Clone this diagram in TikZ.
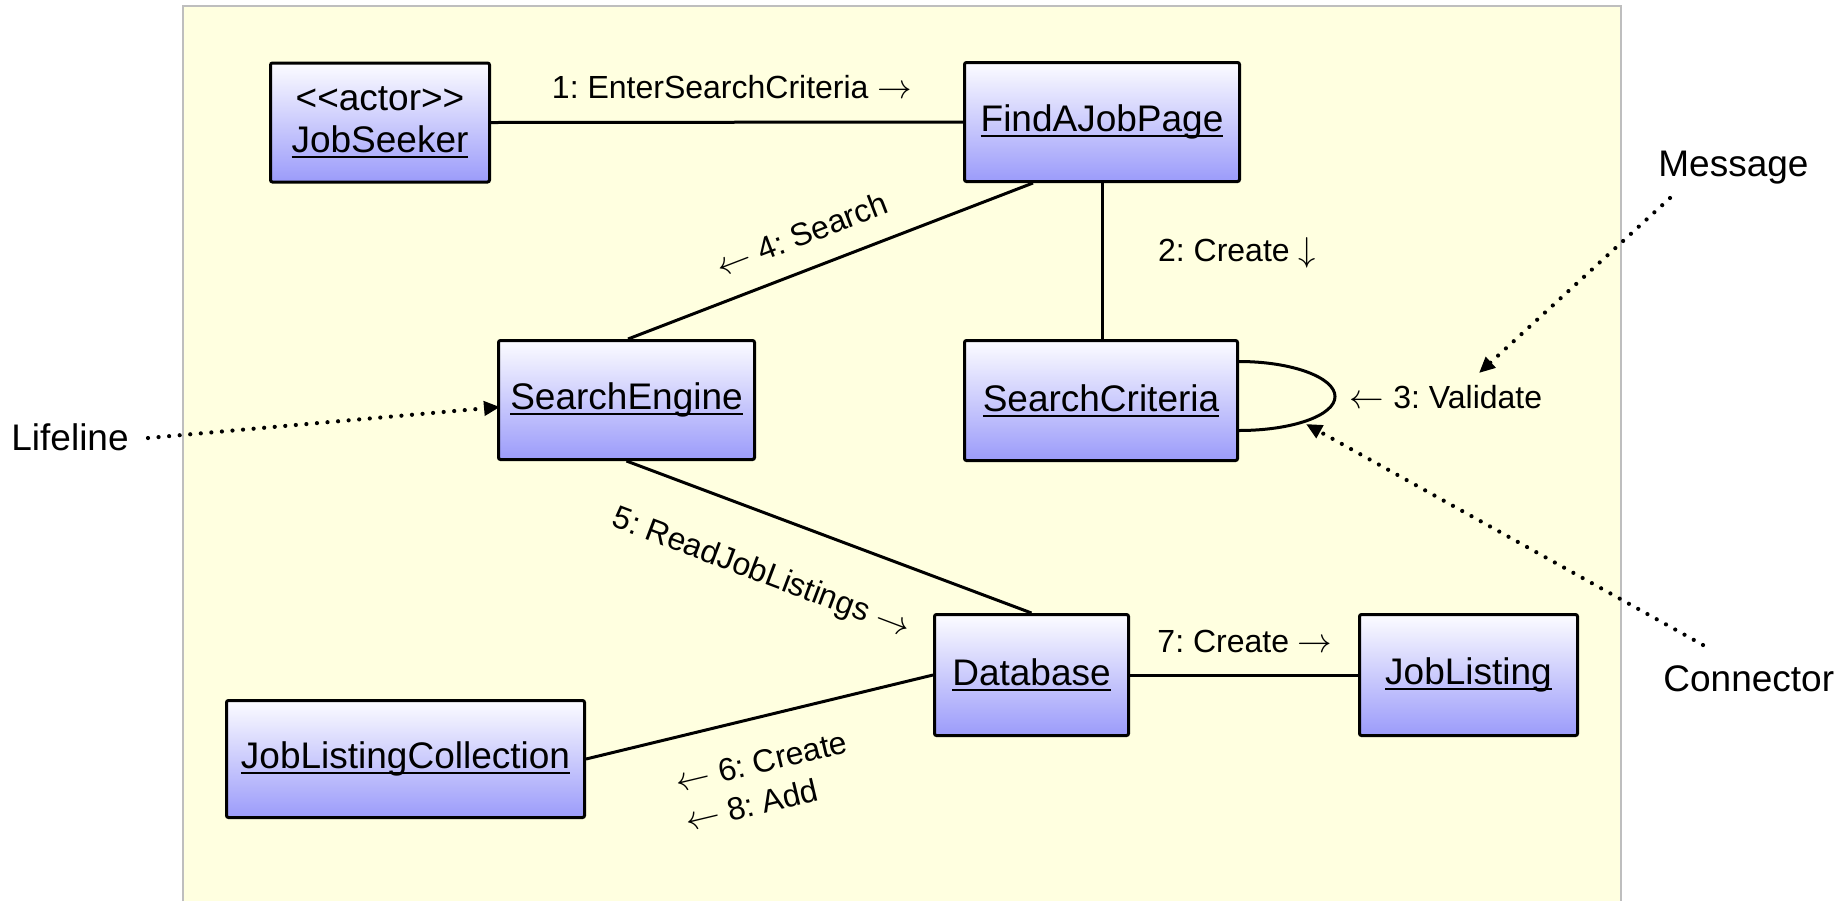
\documentclass[tikz,border=0pt]{standalone}
\usepackage{fontspec}
\setmainfont{Liberation Sans}
\usetikzlibrary{arrows.meta,calc}
\frenchspacing

\definecolor{canvas}{RGB}{255,255,224}
\definecolor{frame}{RGB}{190,190,190}
\definecolor{boxtop}{RGB}{252,252,255}
\definecolor{boxbottom}{RGB}{155,155,250}

% object name, underlined just below the baseline
\newcommand{\objname}[1]{\setbox0\hbox{#1}\rlap{\rule[-2.6pt]{\wd0}{0.9pt}}\box0}

\tikzset{
  obj/.style={draw=black, line width=1.5pt, rounded corners=1pt,
    top color=boxtop, bottom color=boxbottom,
    font=\fontsize{18.5}{21}\selectfont, align=center, inner sep=0pt},
  link/.style={line width=1.5pt},
  msg/.style={font=\fontsize{16}{20}\selectfont, inner sep=0pt, align=left},
  note/.style={font=\fontsize{18.5}{22}\selectfont, inner sep=0pt},
  pointer/.style={line width=2.1pt, dash pattern=on 0pt off 5.3pt, line cap=round,
    -{Triangle[length=8pt,width=7pt]}},
}

\begin{document}
\begin{tikzpicture}[x=0.5pt,y=-0.5pt]
\useasboundingbox (0,0) rectangle (1835,901);

% canvas
\fill[canvas] (183,6) rectangle (1621,901);
\draw[frame, line width=0.8pt] (183,901) -- (183,6) -- (1621,6) -- (1621,901);

% objects
\node[obj, minimum width=109.5pt, minimum height=59.5pt] (js) at (380,122.5)
  {<\kern0pt<actor>\kern0pt>\\ \objname{JobSeeker}};
\node[obj, minimum width=137.5pt, minimum height=59.5pt] (fp) at (1102,122)
  {\objname{FindAJobPage}};
\node[obj, minimum width=128pt, minimum height=59.5pt] (se) at (626.5,400)
  {\objname{SearchEngine}};
\node[obj, minimum width=136.5pt, minimum height=60pt] (sc) at (1101,400.5)
  {\objname{SearchCriteria}};
\node[obj, minimum width=97pt, minimum height=60.5pt] (db) at (1031.5,675)
  {\objname{Database}};
\node[obj, minimum width=109pt, minimum height=60.5pt] (jl) at (1468.5,675)
  {\objname{JobListing}};
\node[obj, minimum width=179pt, minimum height=58.5pt] (jlc) at (405.5,759)
  {\objname{JobListingCollection}};

% links
\draw[link] (js.east) -- (fp.west);
\draw[link] ($(fp.south)+(-69,0)$) -- ($(se.north)+(1.5,0)$);
\draw[link] (fp.south) -- (fp.south |- sc.north);
\draw[link] (se.south) -- (db.north);
\draw[link] (jlc.east) -- (db.west);
\draw[link] (db.east) -- (jl.west);
\draw[link] ($(sc.east)+(0,-39)$)
  .. controls ($(sc.east)+(53,-39)$) and ($(sc.east)+(96,-23)$) .. ($(sc.east)+(96,-4)$)
  .. controls ($(sc.east)+(96,15)$) and ($(sc.east)+(53,30)$) .. ($(sc.east)+(0,30)$);

% messages
\node[msg] (m1) at (732,87) {1: EnterSearchCriteria $\rightarrow$};
\node[msg] (m2) at (1237,253) {2: Create $\downarrow$};
\node[msg] (m3) at (1446,397) {$\leftarrow$ 3: Validate};
\node[msg, rotate=21.07] (m4) at (802,234) {$\leftarrow$ 4: Search};
\node[msg, rotate=-20.7] (m5) at (761,574) {5: ReadJobListings $\rightarrow$};
\node[msg, rotate=13.45] (m68) at (766,781) {$\leftarrow$ 6: Create\\$\leftarrow$ 8: Add};
\node[msg] (m7) at (1245,641) {7: Create $\rightarrow$};

% annotations
\node[note, anchor=west] (lifeline) at (11,437) {Lifeline};
\node[note, anchor=west] (message) at (1658,168) {Message};
\node[note, anchor=west] (connector) at (1663,679) {Connector};

\coordinate (lifeStart) at (148,438);
\coordinate (lifeTip) at (500,407);
\coordinate (msgStart) at (1670,198);
\coordinate (msgTip) at (1479,373);
\coordinate (conStart) at (1703,645);
\coordinate (conTip) at (1306,424);

\draw[pointer] (lifeStart) -- (lifeTip);
\draw[pointer] (msgStart) -- (msgTip);
\draw[pointer] (conStart) -- (conTip);
\end{tikzpicture}
\end{document}
